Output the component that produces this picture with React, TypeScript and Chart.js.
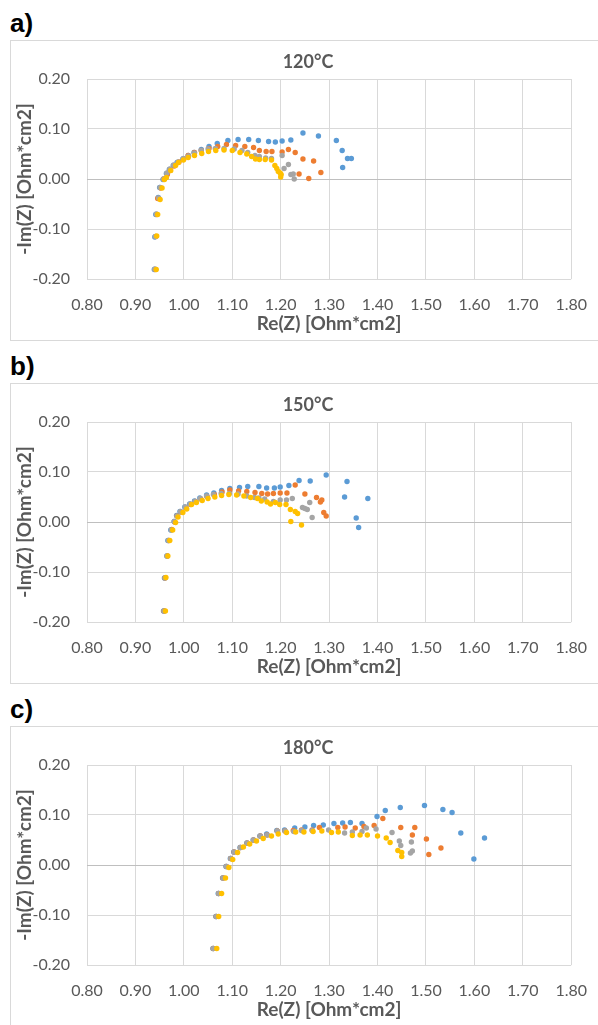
import React, { useEffect, useRef } from "react";
import { Chart, registerables } from "chart.js";

Chart.register(...registerables);

// ---------- data ----------
const SERIES_NAMES = ["S1", "S2", "S3", "S4"];
const SERIES_COLORS = ["#5B9BD5", "#ED7D31", "#A5A5A5", "#FFC000"];

const PANEL_LABELS = ["a)", "b)", "c)"];
const PANEL_TITLES = ["120°C", "150°C", "180°C"];
const X_TITLE = "Re(Z) [Ohm*cm2]";
const Y_TITLE = "-Im(Z) [Ohm*cm2]";
const X_MIN = 0.8, X_MAX = 1.8, X_STEP = 0.1;
const Y_MIN = -0.2, Y_MAX = 0.2, Y_STEP = 0.1;

// Panel a) 120°C
const A_BLUE_X = [0.939,0.940,0.942,0.947,0.950,0.957,0.964,0.970,0.978,0.986,0.998,1.009,1.021,1.036,1.052,1.069,1.091,1.112,1.134,1.154,1.175,1.189,1.203,1.221,1.246,1.278,1.315,1.327,1.338,1.346,1.328];
const A_BLUE_Y = [-0.181,-0.116,-0.071,-0.037,-0.017,-0.001,0.011,0.019,0.027,0.033,0.040,0.047,0.053,0.059,0.065,0.071,0.077,0.079,0.079,0.077,0.075,0.074,0.076,0.078,0.092,0.086,0.077,0.057,0.041,0.041,0.023];
const A_ORANGE_X = [0.941,0.942,0.944,0.946,0.952,0.958,0.966,0.972,0.980,0.990,1.000,1.009,1.022,1.036,1.052,1.070,1.088,1.107,1.126,1.144,1.156,1.170,1.182,1.203,1.216,1.230,1.246,1.268,1.283,1.258,1.238];
const A_ORANGE_Y = [-0.181,-0.115,-0.071,-0.039,-0.018,0.000,0.009,0.017,0.026,0.034,0.040,0.047,0.053,0.057,0.061,0.065,0.069,0.067,0.065,0.063,0.057,0.055,0.055,0.054,0.059,0.053,0.040,0.036,0.013,0.001,0.010];
const A_GRAY_X = [0.940,0.941,0.943,0.948,0.951,0.958,0.965,0.971,0.979,0.988,0.999,1.010,1.022,1.036,1.050,1.065,1.083,1.104,1.120,1.132,1.147,1.156,1.169,1.181,1.203,1.216,1.207,1.221,1.226,1.228];
const A_GRAY_Y = [-0.180,-0.115,-0.070,-0.038,-0.017,0.000,0.012,0.020,0.028,0.034,0.041,0.046,0.052,0.057,0.060,0.061,0.061,0.060,0.057,0.053,0.047,0.045,0.042,0.041,0.047,0.029,0.021,0.009,0.010,0.000];
const A_YELLOW_X = [0.943,0.944,0.946,0.951,0.955,0.960,0.964,0.973,0.983,0.989,0.999,1.009,1.022,1.037,1.051,1.066,1.083,1.100,1.116,1.130,1.140,1.148,1.156,1.168,1.181,1.188,1.192,1.195,1.199,1.201,1.200];
const A_YELLOW_Y = [-0.181,-0.114,-0.071,-0.041,-0.018,-0.001,0.003,0.017,0.027,0.033,0.038,0.043,0.047,0.051,0.055,0.057,0.058,0.057,0.053,0.050,0.045,0.040,0.039,0.039,0.038,0.027,0.021,0.015,0.012,0.009,0.004];

// Panel b) 150°C
const B_BLUE_X = [0.958,0.960,0.965,0.967,0.973,0.980,0.985,0.992,1.002,1.012,1.022,1.033,1.047,1.062,1.078,1.095,1.115,1.132,1.155,1.171,1.187,1.199,1.217,1.238,1.261,1.294,1.337,1.332,1.380,1.356,1.361];
const B_BLUE_Y = [-0.178,-0.112,-0.068,-0.037,-0.016,0.001,0.013,0.021,0.030,0.036,0.042,0.048,0.054,0.058,0.063,0.067,0.069,0.071,0.071,0.068,0.068,0.070,0.073,0.083,0.082,0.094,0.081,0.050,0.047,0.008,-0.011];
const B_ORANGE_X = [0.959,0.961,0.966,0.969,0.975,0.981,0.986,0.994,1.004,1.014,1.024,1.035,1.048,1.063,1.079,1.095,1.113,1.130,1.147,1.161,1.173,1.185,1.199,1.213,1.230,1.250,1.274,1.282,1.285,1.289,1.294];
const B_ORANGE_Y = [-0.178,-0.112,-0.068,-0.037,-0.015,0.000,0.012,0.020,0.029,0.035,0.041,0.046,0.051,0.055,0.060,0.064,0.062,0.061,0.059,0.057,0.056,0.057,0.058,0.058,0.074,0.056,0.049,0.040,0.044,0.019,0.012];
const B_GRAY_X = [0.959,0.961,0.965,0.968,0.974,0.980,0.986,0.993,1.003,1.013,1.023,1.034,1.047,1.061,1.077,1.094,1.112,1.130,1.146,1.155,1.167,1.185,1.199,1.212,1.224,1.245,1.250,1.255,1.260,1.265];
const B_GRAY_Y = [-0.178,-0.112,-0.068,-0.037,-0.016,0.001,0.012,0.021,0.030,0.036,0.041,0.047,0.052,0.055,0.057,0.057,0.056,0.052,0.049,0.048,0.046,0.041,0.044,0.044,0.047,0.029,0.027,0.025,0.039,0.009];
const B_YELLOW_X = [0.962,0.963,0.967,0.971,0.977,0.983,0.988,0.998,1.006,1.016,1.026,1.038,1.050,1.064,1.078,1.093,1.109,1.124,1.138,1.152,1.160,1.172,1.179,1.189,1.198,1.211,1.220,1.230,1.235,1.221,1.243];
const B_YELLOW_Y = [-0.178,-0.111,-0.068,-0.037,-0.016,-0.001,0.010,0.019,0.026,0.035,0.039,0.043,0.047,0.050,0.053,0.055,0.054,0.052,0.049,0.047,0.042,0.040,0.036,0.039,0.035,0.035,0.025,0.021,0.017,0.001,-0.006];

// Panel c) 180°C
const C_BLUE_X = [1.060,1.066,1.071,1.080,1.087,1.096,1.103,1.116,1.130,1.143,1.157,1.171,1.192,1.208,1.229,1.250,1.268,1.288,1.310,1.328,1.344,1.368,1.399,1.416,1.447,1.497,1.535,1.554,1.572,1.621,1.599];
const C_BLUE_Y = [-0.167,-0.103,-0.057,-0.026,-0.003,0.013,0.026,0.035,0.044,0.050,0.058,0.062,0.069,0.070,0.074,0.076,0.079,0.080,0.083,0.084,0.085,0.083,0.097,0.109,0.115,0.119,0.111,0.105,0.064,0.054,0.012];
const C_ORANGE_X = [1.061,1.067,1.072,1.081,1.088,1.097,1.104,1.117,1.131,1.144,1.158,1.172,1.193,1.209,1.226,1.243,1.265,1.280,1.318,1.333,1.354,1.372,1.393,1.411,1.448,1.477,1.472,1.501,1.506,1.531];
const C_ORANGE_Y = [-0.167,-0.103,-0.057,-0.026,-0.003,0.013,0.026,0.035,0.044,0.050,0.058,0.060,0.068,0.068,0.069,0.070,0.070,0.075,0.075,0.076,0.074,0.077,0.079,0.093,0.075,0.075,0.060,0.052,0.021,0.034];
const C_GRAY_X = [1.061,1.067,1.072,1.081,1.088,1.097,1.104,1.117,1.131,1.144,1.158,1.172,1.193,1.209,1.227,1.243,1.265,1.299,1.332,1.348,1.368,1.377,1.397,1.430,1.445,1.448,1.470,1.472,1.468];
const C_GRAY_Y = [-0.167,-0.103,-0.057,-0.026,-0.003,0.013,0.026,0.035,0.044,0.050,0.058,0.060,0.068,0.068,0.067,0.069,0.069,0.070,0.064,0.066,0.067,0.074,0.072,0.065,0.048,0.039,0.046,0.028,0.024];
const C_YELLOW_X = [1.068,1.072,1.078,1.086,1.093,1.101,1.111,1.123,1.136,1.150,1.164,1.181,1.195,1.212,1.231,1.248,1.267,1.285,1.305,1.319,1.348,1.364,1.379,1.400,1.418,1.426,1.442,1.450,1.450];
const C_YELLOW_Y = [-0.167,-0.103,-0.057,-0.026,-0.005,0.011,0.025,0.036,0.042,0.048,0.053,0.058,0.062,0.065,0.066,0.066,0.067,0.068,0.065,0.066,0.059,0.060,0.060,0.058,0.054,0.045,0.029,0.025,0.017];

const PANEL_SERIES = [
  [[A_BLUE_X, A_BLUE_Y], [A_ORANGE_X, A_ORANGE_Y], [A_GRAY_X, A_GRAY_Y], [A_YELLOW_X, A_YELLOW_Y]],
  [[B_BLUE_X, B_BLUE_Y], [B_ORANGE_X, B_ORANGE_Y], [B_GRAY_X, B_GRAY_Y], [B_YELLOW_X, B_YELLOW_Y]],
  [[C_BLUE_X, C_BLUE_Y], [C_ORANGE_X, C_ORANGE_Y], [C_GRAY_X, C_GRAY_Y], [C_YELLOW_X, C_YELLOW_Y]],
];

// ---------- layout ----------
const BOX_TOPS = [40, 383, 726];
const BOX_LEFT = 10;
const BOX_W = 594;
const BOX_H = 301;
const TEXT = "#595959";
const FONT = "Lato, 'Open Sans', sans-serif";

// Chart title drawn centred over the whole chart box (Excel style)
const boxTitlePlugin = {
  id: "boxTitle",
  afterDraw(chart: any, _args: any, opts: any) {
    const { ctx } = chart;
    ctx.save();
    ctx.font = `bold 18px ${FONT}`;
    ctx.fillStyle = TEXT;
    ctx.textAlign = "center";
    ctx.textBaseline = "middle";
    ctx.fillText(opts.text, chart.width / 2 + 1, 20.7);
    ctx.restore();
  },
};

function Panel({ idx }: { idx: number }) {
  const ref = useRef<HTMLCanvasElement>(null);
  useEffect(() => {
    const series = PANEL_SERIES[idx];
    const chart = new Chart(ref.current!, {
      type: "scatter",
      data: {
        datasets: series.map(([xs, ys], i) => ({
          label: SERIES_NAMES[i],
          data: xs.map((x, j) => ({ x, y: ys[j] })),
          backgroundColor: SERIES_COLORS[i],
          borderWidth: 0,
          pointRadius: 2.7,
          pointHoverRadius: 2.7,
          order: 4 - i,
        })),
      },
      plugins: [boxTitlePlugin],
      options: {
        animation: false,
        responsive: false,
        events: [],
        layout: { padding: { left: 0, right: 22, top: 38, bottom: 0 } },
        plugins: {
          legend: { display: false },
          tooltip: { enabled: false },
          title: { display: false },
          boxTitle: { text: PANEL_TITLES[idx] },
        },
        scales: {
          x: {
            type: "linear",
            min: X_MIN,
            max: X_MAX,
            afterFit: (s: any) => { s.height = 61; },
            ticks: {
              stepSize: X_STEP,
              autoSkip: false,
              maxRotation: 0,
              padding: 16,
              color: TEXT,
              font: { family: FONT, size: 16 },
              callback: (v: any) => Number(v).toFixed(2),
            },
            grid: {
              drawTicks: false,
              color: "#d9d9d9",
            },
            border: { display: false },
            title: {
              display: true,
              text: X_TITLE,
              color: TEXT,
              font: { family: FONT, size: 19, weight: "bold" },
              padding: { top: 0, bottom: 4.6 },
            },
          },
          y: {
            type: "linear",
            min: Y_MIN,
            max: Y_MAX,
            afterFit: (s: any) => { s.width = 76; },
            ticks: {
              stepSize: Y_STEP,
              padding: 17,
              color: TEXT,
              font: { family: FONT, size: 16 },
              callback: (v: any) => Number(v).toFixed(2),
            },
            grid: {
              drawTicks: false,
              color: (ctx: any) => (Math.abs(ctx.tick?.value ?? 1) < 1e-9 ? "#bfbfbf" : "#d9d9d9"),
            },
            border: { display: false },
            title: {
              display: true,
              text: Y_TITLE,
              color: TEXT,
              font: { family: FONT, size: 19, weight: "bold" },
              padding: { top: 2.6, bottom: 0 },
            },
          },
        },
      } as any,
    });
    return () => chart.destroy();
  }, [idx]);

  const top = BOX_TOPS[idx];
  return (
    <>
      <div
        style={{
          position: "absolute",
          left: 10,
          top: top - 16 - 16,
          height: 32,
          lineHeight: "32px",
          font: "bold 26px 'Liberation Sans', Arial, sans-serif",
          color: "#000",
        }}
      >
        {PANEL_LABELS[idx]}
      </div>
      <div
        style={{
          position: "absolute",
          left: BOX_LEFT,
          top,
          width: BOX_W,
          height: BOX_H,
          border: "1px solid #d9d9d9",
          boxSizing: "border-box",
          background: "#fff",
        }}
      >
        <canvas ref={ref} width={BOX_W - 2} height={BOX_H - 2} style={{ display: "block" }} />
      </div>
    </>
  );
}

export default function App() {
  return (
    <div
      style={{
        position: "absolute",
        left: 0,
        top: 0,
        width: 598,
        height: 1025,
        overflow: "hidden",
        background: "#fff",
      }}
    >
      {[0, 1, 2].map((i) => (
        <Panel key={i} idx={i} />
      ))}
    </div>
  );
}
